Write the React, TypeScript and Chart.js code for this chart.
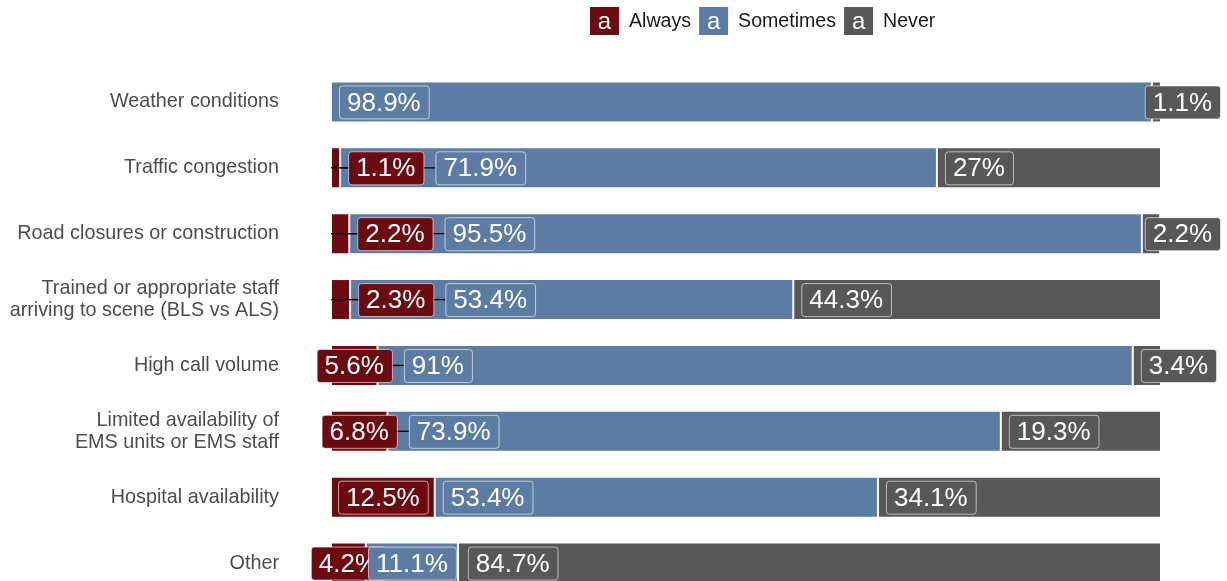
import React, { useEffect, useRef } from 'react';
import { Chart, registerables } from 'chart.js';

Chart.register(...registerables);

const categories: (string | string[])[] = [
  'Weather conditions',
  'Traffic congestion',
  'Road closures or construction',
  ['Trained or appropriate staff', 'arriving to scene (BLS vs ALS)'],
  'High call volume',
  ['Limited availability of', 'EMS units or EMS staff'],
  'Hospital availability',
  'Other',
];
const always = [0, 1.1, 2.2, 2.3, 5.6, 6.8, 12.5, 4.2];
const sometimes = [98.9, 71.9, 95.5, 53.4, 91, 73.9, 53.4, 11.1];
const never = [1.1, 27, 2.2, 44.3, 3.4, 19.3, 34.1, 84.7];
const seriesNames = ['Always', 'Sometimes', 'Never'];
const seriesColors = ['#6b0a11', '#5d7ca3', '#585858'];

const FONT = '"Liberation Sans", Arial, Helvetica, sans-serif';

const labelPlugin = {
  id: 'repelLabels',
  afterDatasetsDraw(chart: any) {
    const ctx = chart.ctx as CanvasRenderingContext2D;
    ctx.save();
    ctx.font = `26px ${FONT}`;
    const W = chart.width;
    const boxes: any[] = [];
    const n = chart.data.labels.length;
    for (let i = 0; i < n; i++) {
      let prevRight = -Infinity;
      for (let j = 0; j < chart.data.datasets.length; j++) {
        const v = chart.data.datasets[j].data[i];
        if (!v) continue;
        const el = chart.getDatasetMeta(j).data[i];
        const start = Math.min(el.base, el.x);
        const end = Math.max(el.base, el.x);
        const segW = end - start;
        const text = `${v}%`;
        const w = ctx.measureText(text).width + 16;
        let left: number;
        if (j === 0) {
          left = segW < 30 ? end + 8 : (start + end) / 2 - w / 2;
        } else if (j === 1 && segW < 1.2 * w) {
          left = (start + end) / 2 - w / 2;
        } else {
          left = Math.max(start + 8, prevRight + 12);
        }
        if (left + w > W - 7) left = W - 7 - w;
        prevRight = left + w;
        boxes.push({ left, w, y: el.y, text, color: chart.data.datasets[j].backgroundColor, anchor: start });
      }
    }
    // leader lines
    ctx.strokeStyle = '#000';
    ctx.lineWidth = 1.3;
    for (const b of boxes) {
      let tx: number | null = null;
      if (b.anchor < b.left - 10) tx = b.left;
      else if (b.anchor > b.left + b.w + 10) tx = b.left + b.w;
      if (tx !== null) {
        ctx.beginPath();
        ctx.moveTo(b.anchor, b.y);
        ctx.lineTo(tx, b.y);
        ctx.stroke();
      }
    }
    // label boxes
    const h = 33;
    for (const b of boxes) {
      const x = b.left, y = b.y - h / 2;
      ctx.beginPath();
      if ((ctx as any).roundRect) (ctx as any).roundRect(x + 0.5, y + 0.5, b.w, h, 3);
      else ctx.rect(x + 0.5, y + 0.5, b.w, h);
      ctx.fillStyle = b.color;
      ctx.fill();
      ctx.strokeStyle = 'rgba(255,255,255,0.6)';
      ctx.lineWidth = 1;
      ctx.stroke();
      ctx.fillStyle = '#ffffff';
      ctx.textAlign = 'center';
      ctx.textBaseline = 'middle';
      ctx.fillText(b.text, x + b.w / 2, b.y + 1.5);
    }
    ctx.restore();
  },
};

const legendPlugin = {
  id: 'topLegend',
  afterDraw(chart: any) {
    const ctx = chart.ctx as CanvasRenderingContext2D;
    ctx.save();
    let x = 590;
    const cy = 21;
    const size = 29;
    seriesNames.forEach((name, k) => {
      ctx.fillStyle = seriesColors[k];
      ctx.fillRect(x, cy - 14, size, 28);
      ctx.fillStyle = '#ffffff';
      ctx.font = `24px ${FONT}`;
      ctx.textAlign = 'center';
      ctx.textBaseline = 'middle';
      ctx.fillText('a', x + size / 2, cy + 1);
      ctx.font = `19.6px ${FONT}`;
      ctx.textAlign = 'left';
      ctx.fillStyle = '#1a1a1a';
      const tx = x + size + 10;
      ctx.fillText(name, tx, cy + 1);
      x = tx + ctx.measureText(name).width + 8;
    });
    ctx.restore();
  },
};

export default function App() {
  const ref = useRef<HTMLCanvasElement>(null);
  useEffect(() => {
    if (!ref.current) return;
    const data = [always, sometimes, never];
    const chart = new Chart(ref.current, {
      type: 'bar',
      data: {
        labels: categories as any,
        datasets: seriesNames.map((name, k) => ({
          label: name,
          data: data[k],
          backgroundColor: seriesColors[k],
          borderColor: 'rgba(255,255,255,0.55)',
          borderWidth: 1,
          borderSkipped: false,
          barPercentage: 0.623,
          categoryPercentage: 1,
        })),
      },
      options: {
        indexAxis: 'y',
        responsive: false,
        animation: false,
        devicePixelRatio: 1,
        layout: { padding: { top: 69, right: 66, left: 0, bottom: 0 } },
        plugins: {
          legend: { display: false },
          tooltip: { enabled: false },
        },
        scales: {
          x: { stacked: true, min: 0, max: 100, display: false },
          y: {
            stacked: true,
            grid: { display: false, drawTicks: false },
            border: { display: false },
            ticks: {
              color: '#4d4d4d',
              padding: 52,
              font: { family: FONT, size: 19.8, lineHeight: 1.12 },
            },
            afterFit: (scale: any) => {
              scale.width = 331;
              scale.paddingTop = 0;
              scale.paddingBottom = 0;
            },
          },
        },
      } as any,
      plugins: [labelPlugin, legendPlugin],
    });
    return () => chart.destroy();
  }, []);
  return (
    <div style={{ position: 'fixed', left: 0, top: 0, width: 1227, height: 581, overflow: 'hidden', background: '#fff' }}>
      <canvas ref={ref} width={1227} height={596} style={{ display: 'block', width: 1227, height: 596 }} />
    </div>
  );
}
